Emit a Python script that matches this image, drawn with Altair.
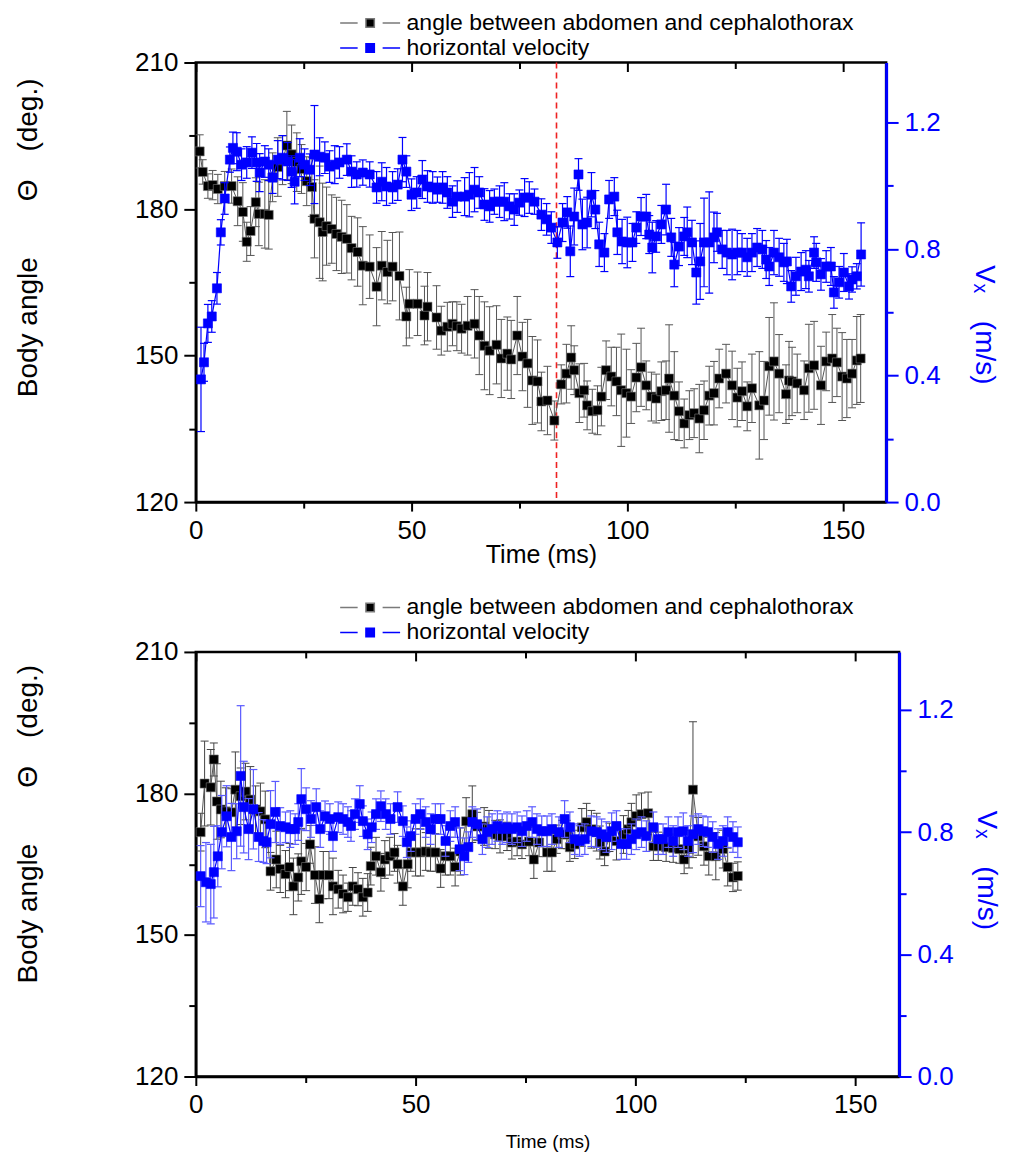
import altair as alt
import pandas as pd

# ---------------- data ----------------
# Top panel: angle between abdomen and cephalothorax (deg)
TA_T = [0.9,1.6,2.8,3.9,5.1,6.7,8.3,9.7,10.9,11.8,12.7,13.9,14.6,16.0,16.9,17.8,19.0,20.1,21.1,22.2,
        23.4,24.5,25.7,26.9,27.5,28.7,29.4,30.3,31.5,32.6,33.8,35.0,36.1,37.5,38.7,40.3,41.9,43.1,44.4,45.6,
        47.2,48.8,49.5,51.4,53.0,53.7,55.8,56.9,58.3,59.5,60.5,61.6,63.0,64.6,65.7,66.9,68.1,69.7,70.8,72.2,
        73.1,74.5,75.7,76.9,78.0,79.2,80.1,81.5,83.1,84.7,85.9,87.0,87.7,88.9,90.0,90.7,91.9,93.1,94.0,95.1,
        96.3,97.5,98.6,99.8,100.9,102.1,103.2,104.4,105.6,106.7,107.9,109.0,109.7,110.9,112.0,113.2,114.4,115.5,116.7,117.8,
        119.0,120.1,121.3,122.9,124.3,125.5,126.6,127.8,128.9,130.6,131.7,132.9,134.0,135.2,136.8,137.5,138.2,139.4,141.0,142.1,
        143.3,144.9,146.1,147.5,148.6,149.8,150.9,152.1,153.2,154.1]
TA_V = [191.8,187.6,184.7,184.9,184.1,184.7,184.7,181.6,179.4,173.3,
        175.5,181.4,179.0,179.0,178.8,186.5,188.6,190.0,193.0,191.2,
        189.6,188.2,185.7,184.5,178.0,177.3,175.3,176.5,175.9,174.9,
        174.3,173.9,172.0,171.2,168.4,168.2,164.1,168.4,167.1,168.2,
        166.3,158.0,160.6,160.6,158.2,160.0,157.8,155.1,155.9,156.5,
        156.0,155.5,156.1,156.5,154.1,152.0,151.0,152.2,149.4,150.4,
        149.2,154.1,149.8,148.4,144.9,144.7,140.6,140.8,136.7,144.1,
        146.3,149.6,147.0,142.3,142.9,139.8,138.6,138.8,141.6,147.0,
        145.7,144.7,142.9,142.3,141.6,145.5,147.6,143.9,141.6,141.2,
        142.7,142.9,145.3,141.8,138.6,136.1,137.8,138.2,137.1,138.8,
        141.8,142.3,145.3,146.3,143.9,141.4,142.7,139.6,143.3,139.8,
        140.8,147.8,148.8,146.3,142.1,144.9,144.7,144.3,142.9,147.4,
        148.0,143.9,148.8,149.4,148.6,145.7,145.3,146.3,149.0,149.4]
TA_E = [3.4,2.5,2.5,3,3,3,3.5,5,6,4,
        5,5,6.5,7,7,5,6,5,7,6,
        6,5,5,6,8,11.5,10,8,7,7.5,
        7.5,7,6.5,7,8,6.5,8,7,6.5,7,
        9,6,7,6.5,6,7,6.5,5,5,4.5,
        5,5,6,7,8,9,9,8,8,7.5,
        8,8,7,9,9,8.5,6,7,4,4,
        6,6.5,5,6,5.5,5,4.5,5,6,6,
        6,7,11.5,9,5.5,7,8,5,5,5,
        6,6,11,9,6,5,5,5,7,6,
        6,6.5,6,6,7,6,6,5,7,11,
        8,10,12,8,6,8,7,6,6,9,
        9,8,6,9,7,9,8,7,9,9]

# Top panel: horizontal velocity (m/s)
TB_T = [1.2,1.9,2.8,3.7,4.9,5.8,6.7,7.9,8.6,9.5,
        10.6,11.8,13.0,14.1,14.8,16.0,16.9,17.8,19.0,20.1,
        21.3,22.2,22.9,24.1,25.2,26.4,27.5,28.7,29.9,31.0,
        32.2,33.3,35.0,36.1,37.3,38.7,40.3,41.9,43.1,44.2,
        45.6,46.8,47.9,48.8,50.0,51.2,52.5,53.7,54.9,56.0,
        57.2,58.3,59.5,60.6,62.3,63.4,64.6,65.7,66.9,68.1,
        69.2,70.4,71.5,72.7,73.8,75.0,76.2,77.3,78.5,80.1,
        81.3,82.4,83.8,85.0,86.1,86.8,87.7,88.7,89.6,90.7,
        91.7,92.6,93.5,94.7,95.8,97.0,97.7,98.8,100.0,101.2,
        102.1,103.2,104.4,105.1,105.8,106.7,107.9,109.0,110.2,110.9,
        112.0,113.2,113.9,115.0,116.0,116.9,117.8,119.0,120.1,120.8,
        122.0,123.1,124.3,125.5,126.6,127.8,128.9,130.1,131.3,132.2,
        132.9,134.0,135.2,136.3,137.0,138.0,139.1,140.3,141.4,142.1,
        143.3,143.8,144.9,146.1,147.2,147.9,149.1,150.2,151.4,152.1,
        153.2,154.2]
TB_V = [0.388,0.442,0.565,0.587,0.676,0.853,0.960,1.083,1.120,1.108,
        1.067,1.074,1.105,1.074,1.042,1.077,1.067,1.026,1.083,1.089,
        1.077,1.045,1.013,1.089,1.067,1.051,1.099,1.092,1.089,1.061,
        1.067,1.074,1.083,1.045,1.036,1.042,1.036,0.995,1.013,0.998,
        0.995,1.004,1.083,1.045,0.972,0.979,1.020,0.998,0.995,0.988,
        0.995,0.979,0.950,0.966,0.966,0.972,0.988,0.979,0.941,0.935,
        0.950,0.950,0.950,0.935,0.925,0.947,0.963,0.963,0.950,0.909,
        0.894,0.868,0.821,0.884,0.916,0.793,0.903,1.036,0.878,0.884,
        0.972,0.925,0.815,0.789,0.957,0.966,0.853,0.824,0.821,0.821,
        0.868,0.903,0.903,0.846,0.805,0.840,0.878,0.925,0.837,0.751,
        0.808,0.840,0.853,0.821,0.726,0.761,0.821,0.821,0.837,0.853,
        0.799,0.789,0.783,0.789,0.789,0.774,0.789,0.805,0.799,0.767,
        0.745,0.789,0.774,0.758,0.761,0.682,0.714,0.729,0.735,0.714,
        0.789,0.758,0.720,0.745,0.745,0.663,0.695,0.726,0.682,0.704,
        0.714,0.783]
TB_E = [0.165,0.06,0.06,0.05,0.05,0.04,0.05,0.04,0.05,0.06,
        0.05,0.05,0.05,0.06,0.06,0.05,0.05,0.05,0.06,0.07,
        0.06,0.05,0.07,0.06,0.05,0.05,0.155,0.06,0.05,0.05,
        0.06,0.05,0.05,0.05,0.04,0.04,0.04,0.05,0.06,0.06,
        0.05,0.05,0.07,0.05,0.05,0.05,0.06,0.05,0.05,0.04,
        0.05,0.05,0.05,0.05,0.06,0.07,0.07,0.05,0.05,0.05,
        0.04,0.05,0.06,0.04,0.05,0.04,0.06,0.05,0.04,0.05,
        0.05,0.05,0.05,0.06,0.05,0.08,0.09,0.05,0.08,0.08,
        0.07,0.06,0.07,0.06,0.06,0.06,0.07,0.07,0.08,0.06,
        0.05,0.06,0.07,0.06,0.08,0.05,0.06,0.08,0.06,0.07,
        0.06,0.06,0.08,0.07,0.10,0.12,0.14,0.16,0.08,0.06,
        0.06,0.07,0.08,0.07,0.06,0.06,0.06,0.06,0.06,0.06,
        0.06,0.07,0.06,0.06,0.07,0.05,0.06,0.06,0.06,0.05,
        0.05,0.06,0.05,0.05,0.06,0.05,0.05,0.06,0.04,0.04,
        0.04,0.10]

# Bottom panel: angle (deg)
BA_T = [1.1,2.0,3.4,4.1,4.8,5.7,6.8,8.1,9.0,10.2,
        11.3,12.4,13.6,14.7,15.8,17.0,18.3,19.2,20.4,21.3,
        22.2,23.3,24.0,25.1,26.0,27.1,28.1,29.0,30.3,31.2,
        32.4,33.5,34.6,35.7,36.9,38.0,39.1,39.8,41.0,42.1,
        43.0,44.1,45.2,45.9,47.1,48.2,48.9,50.0,51.1,52.3,
        53.4,54.5,55.7,56.8,57.9,59.0,60.2,61.5,62.9,64.0,
        65.6,66.7,68.1,69.2,70.8,71.9,73.1,74.2,75.8,76.9,
        78.1,79.9,81.0,82.1,83.3,84.4,85.1,86.2,87.8,88.9,
        90.0,91.2,91.9,93.0,94.1,95.7,97.3,98.4,99.1,100.2,
        101.4,102.9,104.1,105.2,107.0,108.6,110.0,111.1,112.2,113.1,
        114.3,115.6,116.7,118.3,119.9,121.0,122.2,123.3]
BA_V = [171.8,182.1,181.3,187.2,178.3,176.6,176.2,176.0,180.8,179.4,
        180.4,178.7,176.6,176.2,174.5,163.5,166.0,164.0,162.9,164.4,
        160.3,162.2,165.6,164.4,169.2,162.7,157.6,162.7,162.7,160.3,
        159.7,158.7,158.0,160.3,159.7,158.0,159.0,164.6,166.7,163.3,
        166.0,166.7,167.5,165.0,160.3,165.0,167.5,167.5,167.5,167.7,
        167.5,167.5,164.1,166.7,166.7,164.4,167.7,174.1,175.6,173.0,
        173.0,172.4,171.3,170.9,170.9,169.6,169.8,169.2,169.8,166.0,
        169.6,167.5,167.5,170.3,171.3,171.3,168.6,169.2,172.8,173.9,
        172.4,171.8,169.6,167.7,170.7,169.9,171.3,172.4,173.9,175.2,
        175.6,175.8,168.8,168.8,168.6,168.4,168.2,166.0,168.2,180.8,
        170.9,168.8,166.7,166.7,168.2,164.4,162.2,162.5]
BA_E = [4,9,8,3.5,8,6,5,5,8,6,
        6,7,5,6,6,4,6,5,5,5,
        6,5,7,5,4,6,5,5,5,6,
        4,4,3,4,3.5,4,4,4,4,4,
        4,4,4,4,4,5,4,5,5,4,
        4,4,4,4,4,4,5,5,6,3,
        4,4,3,3.5,3,3.5,3,3,3,4,
        3,4,4,3,3,3,3,3,4,4,
        4,4,3.5,3,3,4,4,4,4,4.5,
        4.5,4.5,3,3,3,3,3,3,4,14.4,
        4,4,4,5,4,4,3,3]

# Bottom panel: horizontal velocity (m/s)
BB_T = [1.1,2.3,3.4,4.1,5.0,5.9,7.0,8.1,9.3,10.2,
        10.9,12.0,13.1,14.3,15.4,16.1,17.0,18.1,19.2,20.4,
        21.5,22.6,23.3,24.0,25.1,26.2,27.4,28.3,29.4,30.5,
        31.2,32.4,33.5,34.6,35.3,36.2,37.3,38.0,39.1,40.0,
        41.0,42.1,43.2,44.3,45.9,47.1,48.0,48.9,50.0,51.1,
        52.3,53.4,54.5,55.7,56.8,57.9,59.0,60.0,61.1,62.0,
        62.9,64.0,65.2,66.3,67.4,68.6,69.7,70.8,71.9,73.1,
        74.2,75.3,76.5,77.6,78.7,79.9,81.0,82.6,83.9,85.1,
        86.2,87.3,88.5,90.0,91.2,92.3,93.4,94.6,95.7,96.8,
        98.0,99.1,100.2,101.4,102.5,104.1,105.2,106.3,107.5,108.6,
        109.7,110.9,112.0,113.1,114.3,115.4,116.5,117.6,118.8,119.9,
        121.0,122.2,123.3]
BB_V = [0.656,0.636,0.630,0.669,0.721,0.800,0.852,0.784,0.803,0.984,
        0.882,0.810,0.875,0.784,0.771,0.767,0.826,0.866,0.820,0.816,
        0.810,0.810,0.833,0.908,0.875,0.843,0.882,0.810,0.852,0.843,
        0.787,0.849,0.843,0.833,0.820,0.859,0.892,0.836,0.793,0.816,
        0.859,0.885,0.859,0.843,0.882,0.836,0.767,0.787,0.843,0.859,
        0.833,0.810,0.843,0.843,0.771,0.820,0.833,0.744,0.721,0.751,
        0.833,0.826,0.777,0.800,0.810,0.820,0.810,0.816,0.810,0.816,
        0.803,0.820,0.833,0.810,0.803,0.803,0.810,0.800,0.843,0.816,
        0.777,0.771,0.777,0.803,0.800,0.793,0.784,0.803,0.820,0.761,
        0.761,0.777,0.793,0.800,0.787,0.816,0.777,0.777,0.800,0.771,
        0.800,0.803,0.771,0.793,0.810,0.803,0.800,0.784,0.761,0.771,
        0.800,0.784,0.767]
BB_E = [0.10,0.13,0.13,0.15,0.10,0.12,0.10,0.11,0.09,0.23,
        0.15,0.10,0.13,0.08,0.07,0.07,0.11,0.10,0.06,0.05,
        0.06,0.05,0.06,0.10,0.07,0.06,0.06,0.06,0.05,0.05,
        0.05,0.05,0.05,0.05,0.05,0.05,0.06,0.05,0.05,0.05,
        0.05,0.05,0.05,0.05,0.05,0.05,0.05,0.05,0.05,0.05,
        0.05,0.05,0.05,0.05,0.05,0.05,0.05,0.07,0.06,0.05,
        0.05,0.05,0.05,0.05,0.05,0.05,0.05,0.05,0.05,0.05,
        0.05,0.05,0.05,0.05,0.05,0.05,0.05,0.05,0.06,0.05,
        0.05,0.05,0.05,0.05,0.05,0.05,0.05,0.06,0.05,0.05,
        0.05,0.05,0.05,0.05,0.05,0.05,0.05,0.05,0.05,0.05,
        0.05,0.06,0.05,0.06,0.05,0.05,0.05,0.05,0.05,0.05,
        0.05,0.05,0.05]

RED_LINE_T = [83.6]
SERIES = ["angle between abdomen and cephalothorax", "horizontal velocity"]
X_TICKS = [0, 25, 50, 75, 100, 125, 150]
Y_TICKS = [120, 135, 150, 165, 180, 195, 210]
V_TICKS = [0, 0.2, 0.4, 0.6, 0.8, 1.0, 1.2]

for a, b, c in [(TA_T, TA_V, TA_E), (TB_T, TB_V, TB_E), (BA_T, BA_V, BA_E), (BB_T, BB_V, BB_E)]:
    assert len(a) == len(b) == len(c), (len(a), len(b), len(c))

# ---------------- styling ----------------
FONT = "Liberation Sans"
BLUE = "#0000ff"
SYMBOL = "M-3,0H-1.25M1.25,0H3M-0.42,-0.42H0.42V0.42H-0.42Z"


def frame(t, v, e, name):
    return pd.DataFrame({"t": t, "v": v, "e": e, "series": name})


def make_legend(ly):
    return alt.Legend(title=None, orient="none", legendX=163, legendY=ly,
                      symbolType=SYMBOL, symbolSize=400, symbolStrokeWidth=1.5,
                      symbolOpacity=1, labelFont=FONT, labelFontSize=23,
                      labelColor="black", labelOffset=25, rowPadding=1,
                      padding=0, labelLimit=0)


def panel(a_df, v_df, width, height, leg_y, xt_size, xt_y, lt_y, rt_x, rt_y,
          a_err_col, v_err_col, red=None):
    xscale = alt.Scale(domain=[0, 160], nice=False, zero=False)
    yscale = alt.Scale(domain=[120, 210], nice=False, zero=False)
    vscale = alt.Scale(domain=[0, 1.39], nice=False, zero=False)
    fscale = alt.Scale(domain=SERIES, range=["black", BLUE])
    sscale = alt.Scale(domain=SERIES, range=["#7a7a7a", BLUE])
    leg = make_legend(leg_y)

    x_bottom = alt.Axis(
        orient="bottom", values=X_TICKS, grid=False,
        labelExpr="datum.value % 50 === 0 ? datum.label : ''",
        tickSize={"condition": {"test": "datum.value % 50 === 0", "value": 9}, "value": 6},
        tickWidth=2, tickColor="black", domainColor="black", domainWidth=2.5,
        labelFont=FONT, labelFontSize=26, labelColor="black", labelPadding=6,
        labelFlush=False, labelOverlap=False,
        title="Time (ms)", titleFont=FONT, titleFontSize=xt_size,
        titleFontWeight="normal", titleColor="black", titleY=xt_y,
        titleBaseline="middle")
    x_top = alt.Axis(
        orient="top", values=X_TICKS, grid=False, labels=False, domain=False,
        tickSize={"condition": {"test": "datum.value % 50 === 0", "value": -9}, "value": -6},
        tickWidth=2, tickColor="black", title=None)
    y_left = alt.Axis(
        orient="left", values=Y_TICKS, grid=False,
        labelExpr="datum.value % 30 === 0 ? datum.label : ''",
        tickSize={"condition": {"test": "datum.value % 30 === 0", "value": 12}, "value": 7},
        tickWidth=2, tickColor="black", domainColor="black", domainWidth=2.5,
        labelFont=FONT, labelFontSize=26, labelColor="black", labelPadding=6,
        labelFlush=False, labelOverlap=False,
        title="Body angle\u2003\u2003\u0398\u2003(deg.)", titleFont=FONT,
        titleFontSize=28, titleFontWeight="normal", titleColor="black",
        titleAngle=270, titleX=-167, titleY=lt_y, titleBaseline="middle",
        titleAlign="center")
    y_right = alt.Axis(
        orient="right", values=V_TICKS, format=".1f", grid=False,
        labelExpr="round(datum.value * 10) % 4 === 0 ? datum.label : ''",
        tickSize={"condition": {"test": "round(datum.value * 10) % 4 === 0", "value": 12}, "value": 7},
        tickWidth=2, tickColor=BLUE, domainColor=BLUE, domainWidth=3,
        labelFont=FONT, labelFontSize=26, labelColor=BLUE, labelPadding=6,
        labelFlush=False, labelOverlap=False,
        title="V\u2093\u2003(m/s)", titleFont=FONT, titleFontSize=28,
        titleFontWeight="normal", titleColor=BLUE, titleAngle=90,
        titleX=rt_x, titleY=rt_y, titleBaseline="middle", titleAlign="center")

    def series_layers(df, scale, axis_x, axis_y, err_col, line_col, line_w, err_w):
        base = alt.Chart(df).transform_calculate(
            lo="datum.v - datum.e", hi="datum.v + datum.e")
        X0 = alt.X("t:Q", scale=xscale, axis=axis_x)
        rules = base.mark_rule(color=err_col, strokeWidth=err_w).encode(
            x=X0, y=alt.Y("lo:Q", scale=scale, axis=axis_y), y2="hi:Q")
        cap_lo = base.mark_tick(orient="horizontal", size=8, thickness=err_w,
                                color=err_col, opacity=1).encode(
            x=X0, y=alt.Y("lo:Q", scale=scale, axis=axis_y))
        cap_hi = base.mark_tick(orient="horizontal", size=8, thickness=err_w,
                                color=err_col, opacity=1).encode(
            x=X0, y=alt.Y("hi:Q", scale=scale, axis=axis_y))
        line = base.mark_line(color=line_col, strokeWidth=line_w).encode(
            x=X0, y=alt.Y("v:Q", scale=scale, axis=axis_y))
        pts = base.mark_point(shape="square", filled=True, size=82, opacity=1,
                              strokeWidth=0.6).encode(
            x=X0, y=alt.Y("v:Q", scale=scale, axis=axis_y),
            fill=alt.Fill("series:N", scale=fscale, legend=leg),
            stroke=alt.Stroke("series:N", scale=sscale, legend=leg))
        return [rules, cap_lo, cap_hi, line, pts], X0

    a_layers, XA = series_layers(a_df, yscale, x_bottom, y_left, a_err_col, "#555555", 1, 1)
    if red is not None:
        a_layers.insert(0,
            alt.Chart(red).mark_rule(color="#ee2222", strokeDash=[6, 4], strokeWidth=1.6)
            .encode(x=XA))
    v_layers, _ = series_layers(v_df, vscale, x_top, y_right, v_err_col, BLUE, 1.2, 1.2)

    a_chart = alt.layer(*a_layers)
    v_chart = alt.layer(*v_layers)
    return (alt.layer(a_chart, v_chart)
            .resolve_scale(y="independent")
            .resolve_axis(x="independent", y="independent")
            .properties(width=width, height=height))


top = panel(frame(TA_T, TA_V, TA_E, SERIES[0]), frame(TB_T, TB_V, TB_E, SERIES[1]),
            691, 440, leg_y=-51, xt_size=25, xt_y=52, lt_y=175, rt_x=97, rt_y=262,
            a_err_col="#555555", v_err_col=BLUE,
            red=pd.DataFrame({"t": RED_LINE_T}))
bottom = panel(frame(BA_T, BA_V, BA_E, SERIES[0]), frame(BB_T, BB_V, BB_E, SERIES[1]),
               704, 425, leg_y=-56, xt_size=19, xt_y=65, lt_y=172, rt_x=86, rt_y=218,
               a_err_col="#444444", v_err_col="#5a5aff")

chart = (alt.vconcat(top, bottom, spacing=25)
         .resolve_scale(fill="independent", stroke="independent")
         .properties(padding={"left": 5, "top": 1, "right": 5, "bottom": 2})
         .configure(font=FONT)
         .configure_view(stroke="black", strokeWidth=2.5))

chart.save("out.html", embed_options={"renderer": "svg", "actions": False})
